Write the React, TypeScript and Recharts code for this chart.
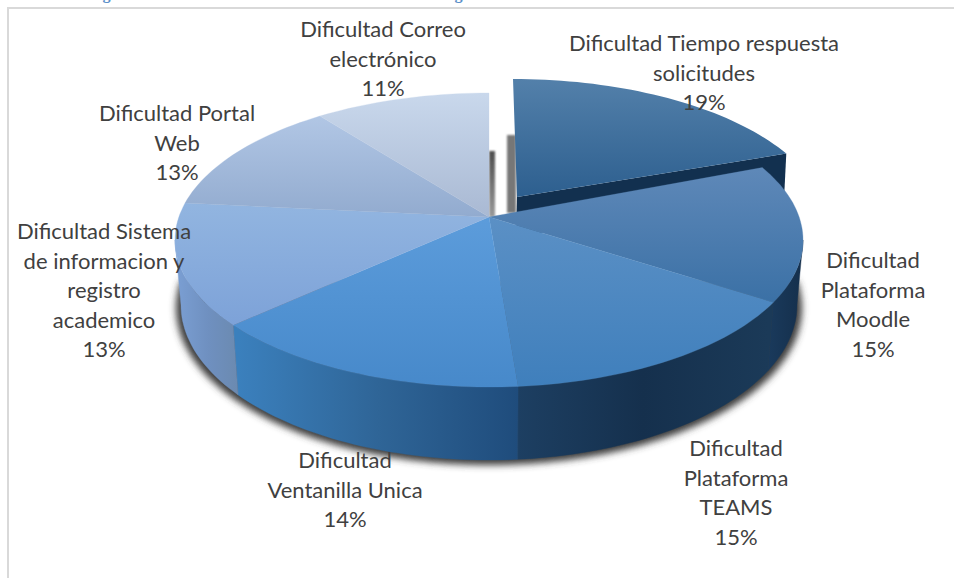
import React from "react";
import { PieChart, Pie } from "recharts";

const CATEGORIES = [
  "Dificultad Tiempo respuesta solicitudes",
  "Dificultad Plataforma Moodle",
  "Dificultad Plataforma TEAMS",
  "Dificultad Ventanilla Unica",
  "Dificultad Sistema de informacion y registro academico",
  "Dificultad Portal Web",
  "Dificultad Correo electrónico",
];
const VALUES = [19, 15, 15, 14, 13, 13, 11];
const LABEL_LINES = [
  ["Dificultad Tiempo respuesta", "solicitudes"],
  ["Dificultad", "Plataforma", "Moodle"],
  ["Dificultad", "Plataforma", "TEAMS"],
  ["Dificultad", "Ventanilla Unica"],
  ["Dificultad Sistema", "de informacion y", "registro", "academico"],
  ["Dificultad Portal", "Web"],
  ["Dificultad Correo", "electrónico"],
];
const TITLE = "Figura 5. Nivel de dificultad en el acceso a las tecnologías durante el uso de docencia";

const rows = CATEGORIES.map((name, i) => ({ name, value: VALUES[i] }));

// layout (not data)
const W = 954;
const H = 578;
const CX = 489;
const CY = 240;
const R = 314;
const ASPECT = 147 / 314;
const APEX_UP = 23;
const LABEL_POS: [number, number][] = [
  [704, 44],
  [873, 261],
  [736, 449],
  [345, 461],
  [104, 232],
  [177, 114],
  [383, 30],
];
const LINE_H = 29.5;
const FONT = "Lato, 'Open Sans', sans-serif";

const rad = (d: number) => (d * Math.PI) / 180;
// perspective squeeze of the pie angle onto the ellipse
const warp = (a: number) =>
  a - (a <= 180 ? 8.5 : 11) * Math.sin(rad(a)) - 1.2 * Math.pow(Math.max(0, -Math.cos(rad(a))), 4);
const clockwise = (polar: number) => 90 - polar;

type Ell = { x: number; y: number; rx: number; ry: number };
const at = (e: Ell, t: number) => [e.x + e.rx * Math.sin(rad(t)), e.y - e.ry * Math.cos(rad(t))];
const arc = (e: Ell, t1: number, t2: number) => {
  const n = Math.max(2, Math.ceil(Math.abs(t2 - t1) / 1.5));
  const out: string[] = [];
  for (let i = 0; i <= n; i++) {
    const [x, y] = at(e, t1 + ((t2 - t1) * i) / n);
    out.push(`${x.toFixed(1)} ${y.toFixed(1)}`);
  }
  return out;
};
const topEll = (p: any): Ell => ({ x: p.cx, y: p.cy, rx: p.outerRadius, ry: p.outerRadius * ASPECT });
const botEll = (p: any): Ell => ({
  x: p.cx,
  y: p.cy + 65,
  rx: p.outerRadius - 6,
  ry: p.outerRadius * ASPECT + 8,
});
const range = (p: any) => [warp(clockwise(p.startAngle)), warp(clockwise(p.endAngle))];

function BackShape(p: any) {
  const i = p.index;
  if (i === 0) {
    const [t1, t2] = range(p);
    const dx = 24;
    const dy = -14;
    const top = topEll(p);
    const e = { ...top, x: top.x + dx, y: top.y + dy };
    const ax = p.cx + 28;
    const ay = p.cy - APEX_UP - 20;
    const [ex, ey] = at(e, t2);
    const be = botEll(p);
    const sh: Ell = { x: be.x, y: be.y + 3, rx: be.rx + 5, ry: be.ry + 2 };
    return (
      <g>
        <path d={`M${arc(sh, 80, 280).join(" L")} Z`} fill="#3c3c3c" filter="url(#softShadow)" />
        <rect x={ax - 10} y={ay - 62} width={9} height={78} fill="#777777" filter="url(#softEdge)" />
        <path d={`M${ax} ${ay} L${ex} ${ey} L${ex - 2} ${ey + 40} L${ax - 1} ${ay + 40} Z`} fill="#12304f" />
        <path d={`M${ax} ${ay} L${arc(e, t1, t2).join(" L")} Z`} fill="url(#top0)" />
      </g>
    );
  }
  if (i === 6) {
    const x = p.cx;
    const y = p.cy - APEX_UP;
    return <rect x={x} y={y - 66} width={6} height={66} fill="url(#barShade)" filter="url(#softEdge)" />;
  }
  return <g />;
}

function WallShape(p: any) {
  if (p.index === 0) return <g />;
  const [a, b] = range(p);
  const t1 = Math.max(a, 90);
  const t2 = Math.min(b, 270);
  if (t2 <= t1) return <g />;
  const d = [...arc(topEll(p), t1, t2), ...arc(botEll(p), t2, t1)];
  return <path d={`M${d.join(" L")} Z`} fill={`url(#wall${p.index})`} stroke={`url(#wall${p.index})`} strokeWidth={0.4} />;
}

function TopShape(p: any) {
  if (p.index === 0) return <g />;
  const [t1, t2] = range(p);
  const d = arc(topEll(p), t1, t2);
  const ax = p.cx;
  const ay = p.cy - APEX_UP;
  return <path d={`M${ax} ${ay} L${d.join(" L")} Z`} fill={`url(#top${p.index})`} stroke={`url(#top${p.index})`} strokeWidth={0.3} />;
}

function renderLabel(p: any) {
  const i = p.index;
  const [x, y] = LABEL_POS[i];
  const lines = [...LABEL_LINES[i], `${Math.round(p.percent * 100)}%`];
  return (
    <text x={x} y={y} textAnchor="middle" fontFamily={FONT} fontSize={22} fill="#404040" stroke="none">
      {lines.map((l, k) => (
        <tspan key={k} x={x} y={y + 7 + k * LINE_H}>
          {l}
        </tspan>
      ))}
    </text>
  );
}

const vGrad = (id: string, y1: number, y2: number, c1: string, c2: string) => (
  <linearGradient id={id} key={id} gradientUnits="userSpaceOnUse" x1={0} x2={0} y1={y1} y2={y2}>
    <stop offset="0" stopColor={c1} />
    <stop offset="1" stopColor={c2} />
  </linearGradient>
);
const hGrad = (id: string, x1: number, x2: number, stops: string[]) => (
  <linearGradient id={id} key={id} gradientUnits="userSpaceOnUse" x1={x1} x2={x2} y1={0} y2={0}>
    {stops.map((c, i) => (
      <stop key={i} offset={i / (stops.length - 1)} stopColor={c} />
    ))}
  </linearGradient>
);

export default function App() {
  const common = {
    data: rows,
    dataKey: "value",
    nameKey: "name",
    cx: CX,
    cy: CY,
    outerRadius: R,
    innerRadius: 0,
    startAngle: 90,
    endAngle: -270,
    isAnimationActive: false,
    stroke: "none",
    labelLine: false,
  };
  return (
    <div style={{ position: "absolute", left: 0, top: 0, width: W, height: H, overflow: "hidden", background: "#fff" }}>
      <div
        style={{
          position: "absolute",
          left: 88,
          top: -15,
          width: 750,
          whiteSpace: "nowrap",
          fontFamily: "'Liberation Serif', serif",
          fontWeight: 700,
          fontSize: 16.2,
          lineHeight: "18px",
          color: "#5b8fc9",
        }}
      >
        {TITLE}
      </div>
      <div style={{ position: "absolute", left: 7, top: 7, right: 0, height: 2, background: "#d9d9d9" }} />
      <div style={{ position: "absolute", left: 7, top: 7, bottom: 0, width: 2, background: "#d9d9d9" }} />
      <div style={{ position: "absolute", left: 0, top: 0 }}>
        <PieChart width={W} height={H} margin={{ top: 0, right: 0, bottom: 0, left: 0 }}>
          <defs>
            <filter id="softShadow" x="-10%" y="-10%" width="120%" height="120%">
              <feGaussianBlur stdDeviation="3.5" />
            </filter>
            <filter id="softEdge" x="-150%" y="-10%" width="400%" height="120%">
              <feGaussianBlur stdDeviation="1.3" />
            </filter>
            {vGrad("barShade", 150, 217, "#4d4d4d", "#9a9a9a")}
            {vGrad("top0", 79, 197, "#5380aa", "#2d5f8f")}
            {vGrad("top1", 170, 305, "#5e88b8", "#3a70a5")}
            {vGrad("top2", 217, 387, "#5b90c5", "#3f7fbc")}
            {vGrad("top3", 217, 387, "#5c9cdb", "#4789ca")}
            {vGrad("top4", 203, 325, "#92b5e0", "#7da2d8")}
            {vGrad("top5", 110, 217, "#b3c8e6", "#92abcf")}
            {vGrad("top6", 93, 217, "#c9d8ec", "#a9b9d3")}
            {hGrad("wall1", 768, 800, ["#1a3a5c", "#15304d"])}
            {hGrad("wall2", 518, 768, ["#1d3f62", "#15304d", "#1b3a58"])}
            {hGrad("wall3", 238, 518, ["#3b80bd", "#2f6597", "#1f4c7c"])}
            {hGrad("wall4", 178, 238, ["#7a9ed2", "#6f90c0", "#6b8ab0"])}
          </defs>
          <Pie {...common} shape={BackShape} />
          <Pie {...common} shape={WallShape} />
          <Pie {...common} shape={TopShape} label={renderLabel} />
        </PieChart>
      </div>
    </div>
  );
}
